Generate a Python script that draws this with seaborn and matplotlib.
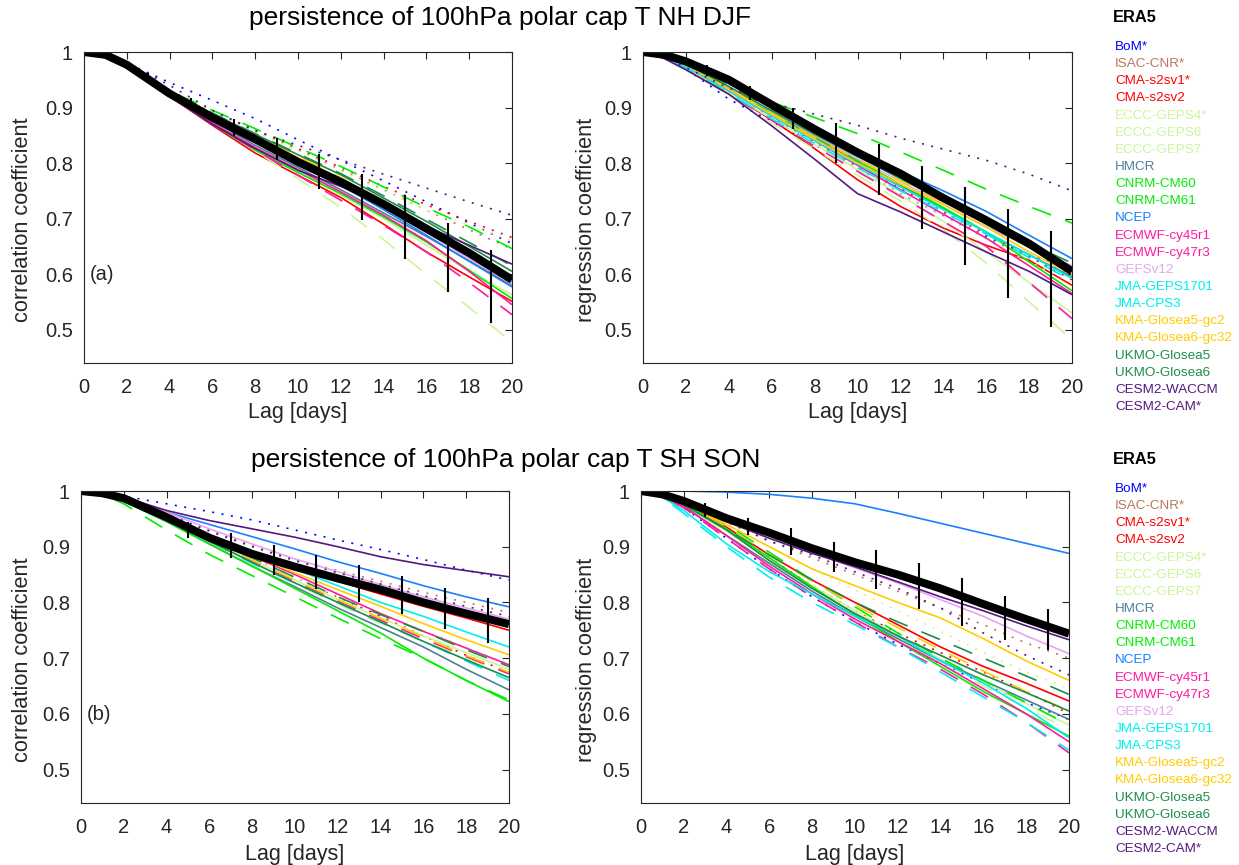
import numpy as np
import matplotlib
matplotlib.use("Agg")
import matplotlib.pyplot as plt
import seaborn as sns
from matplotlib.ticker import FormatStrFormatter

# ---------------- data ----------------
LAGS = [0, 1, 2, 4, 6, 8, 10, 12, 14, 16, 18, 20]
BAR_LAGS = [3, 5, 7, 9, 11, 13, 15, 17, 19]

MODELS = ["BoM*", "ISAC-CNR*", "CMA-s2sv1*", "CMA-s2sv2", "ECCC-GEPS4*", "ECCC-GEPS6",
          "ECCC-GEPS7", "HMCR", "CNRM-CM60", "CNRM-CM61", "NCEP", "ECMWF-cy45r1",
          "ECMWF-cy47r3", "GEFSv12", "JMA-GEPS1701", "JMA-CPS3", "KMA-Glosea5-gc2",
          "KMA-Glosea6-gc32", "UKMO-Glosea5", "UKMO-Glosea6", "CESM2-WACCM", "CESM2-CAM*"]
COLORS = ["#0000ff", "#b8785a", "#ff0000", "#ff0000", "#ccf59a", "#ccf59a", "#ccf59a",
          "#4f8099", "#00ee00", "#00ee00", "#1a80ff", "#ff1aa0", "#ff1aa0", "#e8a4f0",
          "#00eeee", "#00eeee", "#ffcc00", "#ffcc00", "#1c8c4c", "#1c8c4c", "#55187f", "#55187f"]
STYLES = ["dot", "dot", "dot", "solid", "dot", "dash", "solid", "solid", "dash", "solid",
          "solid", "dash", "solid", "solid", "dash", "solid", "dash", "solid", "dash",
          "solid", "solid", "dot"]

# Panel (a): NH DJF correlation
ERA5_A = [1, 0.995, 0.977, 0.925, 0.882, 0.843, 0.802, 0.766, 0.726, 0.682, 0.638, 0.590]
BAR_LO_A = [0.948, 0.896, 0.849, 0.806, 0.754, 0.697, 0.627, 0.568, 0.512]
BAR_HI_A = [0.962, 0.917, 0.880, 0.846, 0.816, 0.780, 0.742, 0.692, 0.643]
MODELS_A = {
    "BoM*": [1, 0.995, 0.980, 0.945, 0.913, 0.880, 0.842, 0.805, 0.768, 0.730, 0.692, 0.655],
    "ISAC-CNR*": [1, 0.995, 0.978, 0.930, 0.893, 0.858, 0.823, 0.788, 0.752, 0.715, 0.680, 0.645],
    "CMA-s2sv1*": [1, 0.995, 0.978, 0.930, 0.893, 0.860, 0.826, 0.792, 0.758, 0.725, 0.695, 0.666],
    "CMA-s2sv2": [1, 0.994, 0.975, 0.920, 0.868, 0.818, 0.778, 0.738, 0.690, 0.640, 0.595, 0.551],
    "ECCC-GEPS4*": [1, 0.995, 0.978, 0.930, 0.892, 0.857, 0.822, 0.786, 0.750, 0.715, 0.688, 0.660],
    "ECCC-GEPS6": [1, 0.994, 0.975, 0.922, 0.872, 0.822, 0.772, 0.720, 0.662, 0.600, 0.540, 0.477],
    "ECCC-GEPS7": [1, 0.994, 0.976, 0.923, 0.874, 0.828, 0.785, 0.742, 0.700, 0.652, 0.605, 0.563],
    "HMCR": [1, 0.994, 0.976, 0.924, 0.876, 0.832, 0.792, 0.752, 0.710, 0.668, 0.624, 0.580],
    "CNRM-CM60": [1, 0.995, 0.978, 0.930, 0.895, 0.862, 0.828, 0.794, 0.757, 0.720, 0.685, 0.646],
    "CNRM-CM61": [1, 0.994, 0.975, 0.921, 0.870, 0.823, 0.783, 0.745, 0.703, 0.658, 0.607, 0.556],
    "NCEP": [1, 0.994, 0.976, 0.925, 0.880, 0.840, 0.800, 0.760, 0.716, 0.670, 0.623, 0.577],
    "ECMWF-cy45r1": [1, 0.994, 0.975, 0.921, 0.870, 0.824, 0.778, 0.733, 0.688, 0.640, 0.585, 0.527],
    "ECMWF-cy47r3": [1, 0.994, 0.975, 0.922, 0.872, 0.828, 0.788, 0.748, 0.706, 0.660, 0.605, 0.545],
    "GEFSv12": [1, 0.994, 0.976, 0.925, 0.880, 0.840, 0.800, 0.762, 0.720, 0.675, 0.628, 0.582],
    "JMA-GEPS1701": [1, 0.995, 0.977, 0.928, 0.886, 0.848, 0.808, 0.770, 0.728, 0.684, 0.638, 0.592],
    "JMA-CPS3": [1, 0.995, 0.977, 0.927, 0.885, 0.846, 0.806, 0.768, 0.726, 0.682, 0.634, 0.586],
    "KMA-Glosea5-gc2": [1, 0.995, 0.977, 0.928, 0.887, 0.850, 0.812, 0.774, 0.731, 0.686, 0.640, 0.592],
    "KMA-Glosea6-gc32": [1, 0.995, 0.977, 0.928, 0.886, 0.848, 0.810, 0.772, 0.730, 0.686, 0.641, 0.596],
    "UKMO-Glosea5": [1, 0.995, 0.978, 0.930, 0.890, 0.853, 0.817, 0.781, 0.741, 0.699, 0.657, 0.615],
    "UKMO-Glosea6": [1, 0.995, 0.978, 0.930, 0.889, 0.852, 0.815, 0.779, 0.737, 0.695, 0.650, 0.605],
    "CESM2-WACCM": [1, 0.994, 0.975, 0.920, 0.870, 0.826, 0.787, 0.758, 0.722, 0.686, 0.652, 0.618],
    "CESM2-CAM*": [1, 0.995, 0.980, 0.940, 0.895, 0.858, 0.832, 0.806, 0.780, 0.755, 0.730, 0.706],
}

# Panel (top right): NH DJF regression
ERA5_B = [1, 0.995, 0.983, 0.950, 0.905, 0.861, 0.819, 0.781, 0.737, 0.697, 0.655, 0.605]
BAR_LO_B = [0.956, 0.914, 0.861, 0.801, 0.742, 0.682, 0.617, 0.557, 0.505]
BAR_HI_B = [0.976, 0.938, 0.899, 0.873, 0.834, 0.795, 0.757, 0.718, 0.677]
MODELS_B = {
    "BoM*": [1, 0.990, 0.970, 0.915, 0.875, 0.833, 0.790, 0.745, 0.705, 0.668, 0.635, 0.610],
    "ISAC-CNR*": [1, 0.990, 0.972, 0.925, 0.880, 0.835, 0.792, 0.752, 0.708, 0.665, 0.630, 0.600],
    "CMA-s2sv1*": [1, 0.990, 0.972, 0.925, 0.882, 0.838, 0.795, 0.755, 0.712, 0.672, 0.632, 0.590],
    "CMA-s2sv2": [1, 0.990, 0.972, 0.925, 0.878, 0.826, 0.770, 0.722, 0.683, 0.652, 0.625, 0.580],
    "ECCC-GEPS4*": [1, 0.990, 0.972, 0.925, 0.880, 0.835, 0.790, 0.746, 0.704, 0.662, 0.622, 0.585],
    "ECCC-GEPS6": [1, 0.990, 0.971, 0.922, 0.872, 0.825, 0.778, 0.732, 0.680, 0.620, 0.550, 0.482],
    "ECCC-GEPS7": [1, 0.990, 0.972, 0.926, 0.880, 0.834, 0.788, 0.742, 0.695, 0.640, 0.585, 0.530],
    "HMCR": [1, 0.992, 0.976, 0.935, 0.890, 0.845, 0.802, 0.760, 0.718, 0.675, 0.635, 0.595],
    "CNRM-CM60": [1, 0.993, 0.978, 0.945, 0.910, 0.882, 0.853, 0.820, 0.787, 0.753, 0.722, 0.692],
    "CNRM-CM61": [1, 0.992, 0.976, 0.935, 0.892, 0.848, 0.805, 0.762, 0.720, 0.676, 0.622, 0.570],
    "NCEP": [1, 0.993, 0.980, 0.943, 0.900, 0.858, 0.820, 0.785, 0.750, 0.713, 0.670, 0.628],
    "ECMWF-cy45r1": [1, 0.990, 0.972, 0.925, 0.877, 0.830, 0.785, 0.740, 0.695, 0.650, 0.585, 0.520],
    "ECMWF-cy47r3": [1, 0.991, 0.974, 0.930, 0.885, 0.840, 0.796, 0.752, 0.708, 0.665, 0.615, 0.565],
    "GEFSv12": [1, 0.992, 0.976, 0.936, 0.893, 0.850, 0.808, 0.767, 0.726, 0.685, 0.650, 0.615],
    "JMA-GEPS1701": [1, 0.990, 0.972, 0.925, 0.880, 0.835, 0.792, 0.750, 0.712, 0.672, 0.630, 0.588],
    "JMA-CPS3": [1, 0.991, 0.974, 0.930, 0.885, 0.840, 0.798, 0.757, 0.716, 0.676, 0.635, 0.592],
    "KMA-Glosea5-gc2": [1, 0.992, 0.977, 0.935, 0.890, 0.846, 0.806, 0.768, 0.730, 0.690, 0.650, 0.610],
    "KMA-Glosea6-gc32": [1, 0.992, 0.977, 0.933, 0.888, 0.843, 0.800, 0.762, 0.725, 0.685, 0.640, 0.600],
    "UKMO-Glosea5": [1, 0.993, 0.979, 0.940, 0.897, 0.855, 0.815, 0.775, 0.735, 0.695, 0.655, 0.620],
    "UKMO-Glosea6": [1, 0.993, 0.978, 0.938, 0.894, 0.852, 0.812, 0.772, 0.732, 0.690, 0.648, 0.612],
    "CESM2-WACCM": [1, 0.988, 0.968, 0.924, 0.867, 0.807, 0.745, 0.712, 0.676, 0.640, 0.605, 0.563],
    "CESM2-CAM*": [1, 0.990, 0.972, 0.935, 0.908, 0.888, 0.868, 0.845, 0.825, 0.805, 0.780, 0.750],
}

# Panel (b): SH SON correlation
ERA5_C = [1, 0.996, 0.987, 0.953, 0.916, 0.887, 0.864, 0.843, 0.823, 0.800, 0.780, 0.761]
BAR_LO_C = [0.962, 0.915, 0.879, 0.849, 0.825, 0.801, 0.780, 0.753, 0.727]
BAR_HI_C = [0.975, 0.945, 0.924, 0.903, 0.886, 0.867, 0.847, 0.826, 0.808]
MODELS_C = {
    "BoM*": [1, 0.997, 0.991, 0.977, 0.963, 0.948, 0.930, 0.912, 0.895, 0.877, 0.858, 0.840],
    "ISAC-CNR*": [1, 0.996, 0.987, 0.958, 0.930, 0.902, 0.877, 0.857, 0.838, 0.818, 0.800, 0.782],
    "CMA-s2sv1*": [1, 0.996, 0.985, 0.955, 0.915, 0.880, 0.845, 0.810, 0.775, 0.740, 0.705, 0.675],
    "CMA-s2sv2": [1, 0.996, 0.986, 0.952, 0.915, 0.885, 0.860, 0.838, 0.815, 0.793, 0.772, 0.750],
    "ECCC-GEPS4*": [1, 0.996, 0.985, 0.952, 0.915, 0.880, 0.845, 0.812, 0.780, 0.750, 0.720, 0.690],
    "ECCC-GEPS6": [1, 0.995, 0.984, 0.948, 0.908, 0.870, 0.833, 0.797, 0.762, 0.730, 0.700, 0.672],
    "ECCC-GEPS7": [1, 0.995, 0.984, 0.950, 0.912, 0.876, 0.840, 0.805, 0.772, 0.740, 0.710, 0.680],
    "HMCR": [1, 0.995, 0.982, 0.945, 0.905, 0.865, 0.828, 0.790, 0.755, 0.720, 0.680, 0.643],
    "CNRM-CM60": [1, 0.994, 0.977, 0.930, 0.886, 0.848, 0.810, 0.772, 0.735, 0.700, 0.660, 0.625],
    "CNRM-CM61": [1, 0.995, 0.982, 0.945, 0.905, 0.865, 0.825, 0.785, 0.745, 0.700, 0.660, 0.622],
    "NCEP": [1, 0.997, 0.988, 0.962, 0.940, 0.918, 0.896, 0.873, 0.852, 0.830, 0.810, 0.792],
    "ECMWF-cy45r1": [1, 0.995, 0.984, 0.950, 0.912, 0.875, 0.838, 0.802, 0.768, 0.735, 0.703, 0.672],
    "ECMWF-cy47r3": [1, 0.996, 0.985, 0.955, 0.918, 0.883, 0.850, 0.815, 0.780, 0.748, 0.718, 0.688],
    "GEFSv12": [1, 0.997, 0.989, 0.962, 0.932, 0.905, 0.878, 0.855, 0.832, 0.810, 0.790, 0.770],
    "JMA-GEPS1701": [1, 0.995, 0.983, 0.948, 0.910, 0.870, 0.835, 0.800, 0.765, 0.730, 0.695, 0.660],
    "JMA-CPS3": [1, 0.996, 0.985, 0.955, 0.920, 0.888, 0.860, 0.830, 0.800, 0.775, 0.747, 0.720],
    "KMA-Glosea5-gc2": [1, 0.995, 0.984, 0.950, 0.912, 0.876, 0.840, 0.805, 0.772, 0.738, 0.705, 0.675],
    "KMA-Glosea6-gc32": [1, 0.996, 0.985, 0.955, 0.918, 0.885, 0.853, 0.823, 0.793, 0.762, 0.733, 0.706],
    "UKMO-Glosea5": [1, 0.995, 0.984, 0.953, 0.915, 0.880, 0.845, 0.810, 0.778, 0.748, 0.715, 0.685],
    "UKMO-Glosea6": [1, 0.995, 0.983, 0.950, 0.910, 0.872, 0.835, 0.800, 0.765, 0.730, 0.697, 0.665],
    "CESM2-WACCM": [1, 0.997, 0.989, 0.965, 0.947, 0.932, 0.917, 0.900, 0.882, 0.868, 0.857, 0.846],
    "CESM2-CAM*": [1, 0.996, 0.987, 0.958, 0.928, 0.900, 0.875, 0.853, 0.833, 0.812, 0.793, 0.775],
}

# Panel (bottom right): SH SON regression
ERA5_D = [1, 0.994, 0.982, 0.951, 0.925, 0.897, 0.872, 0.850, 0.825, 0.797, 0.770, 0.744]
BAR_LO_D = [0.954, 0.921, 0.885, 0.855, 0.825, 0.789, 0.757, 0.733, 0.714]
BAR_HI_D = [0.978, 0.951, 0.933, 0.909, 0.894, 0.870, 0.843, 0.811, 0.789]
MODELS_D = {
    "BoM*": [1, 0.990, 0.970, 0.915, 0.860, 0.810, 0.765, 0.725, 0.690, 0.655, 0.620, 0.590],
    "ISAC-CNR*": [1, 0.993, 0.980, 0.945, 0.910, 0.880, 0.850, 0.820, 0.790, 0.760, 0.727, 0.700],
    "CMA-s2sv1*": [1, 0.991, 0.975, 0.930, 0.880, 0.830, 0.785, 0.745, 0.710, 0.675, 0.640, 0.600],
    "CMA-s2sv2": [1, 0.992, 0.978, 0.935, 0.885, 0.840, 0.800, 0.760, 0.720, 0.685, 0.655, 0.623],
    "ECCC-GEPS4*": [1, 0.992, 0.978, 0.940, 0.900, 0.860, 0.822, 0.785, 0.748, 0.710, 0.675, 0.645],
    "ECCC-GEPS6": [1, 0.990, 0.972, 0.922, 0.870, 0.820, 0.775, 0.735, 0.690, 0.650, 0.610, 0.572],
    "ECCC-GEPS7": [1, 0.991, 0.974, 0.928, 0.878, 0.830, 0.785, 0.740, 0.698, 0.658, 0.618, 0.580],
    "HMCR": [1, 0.990, 0.972, 0.920, 0.870, 0.820, 0.775, 0.735, 0.695, 0.660, 0.625, 0.590],
    "CNRM-CM60": [1, 0.993, 0.980, 0.940, 0.890, 0.840, 0.792, 0.745, 0.700, 0.660, 0.620, 0.580],
    "CNRM-CM61": [1, 0.992, 0.977, 0.932, 0.880, 0.828, 0.778, 0.730, 0.685, 0.640, 0.600, 0.560],
    "NCEP": [1, 1.000, 1.000, 0.998, 0.994, 0.987, 0.977, 0.960, 0.942, 0.924, 0.906, 0.888],
    "ECMWF-cy45r1": [1, 0.990, 0.970, 0.915, 0.860, 0.810, 0.765, 0.720, 0.680, 0.635, 0.585, 0.530],
    "ECMWF-cy47r3": [1, 0.990, 0.972, 0.920, 0.865, 0.815, 0.770, 0.730, 0.690, 0.645, 0.600, 0.550],
    "GEFSv12": [1, 0.994, 0.982, 0.950, 0.920, 0.890, 0.862, 0.835, 0.805, 0.775, 0.740, 0.708],
    "JMA-GEPS1701": [1, 0.988, 0.960, 0.900, 0.845, 0.800, 0.760, 0.720, 0.675, 0.630, 0.585, 0.535],
    "JMA-CPS3": [1, 0.989, 0.965, 0.905, 0.855, 0.815, 0.775, 0.740, 0.695, 0.655, 0.610, 0.557],
    "KMA-Glosea5-gc2": [1, 0.992, 0.977, 0.935, 0.885, 0.838, 0.795, 0.755, 0.715, 0.677, 0.640, 0.605],
    "KMA-Glosea6-gc32": [1, 0.993, 0.978, 0.940, 0.900, 0.860, 0.830, 0.800, 0.772, 0.735, 0.695, 0.660],
    "UKMO-Glosea5": [1, 0.992, 0.975, 0.932, 0.885, 0.840, 0.800, 0.765, 0.733, 0.700, 0.668, 0.635],
    "UKMO-Glosea6": [1, 0.992, 0.975, 0.930, 0.875, 0.825, 0.780, 0.740, 0.705, 0.670, 0.638, 0.605],
    "CESM2-WACCM": [1, 0.994, 0.980, 0.945, 0.915, 0.888, 0.864, 0.837, 0.810, 0.785, 0.758, 0.733],
    "CESM2-CAM*": [1, 0.992, 0.978, 0.945, 0.910, 0.885, 0.855, 0.825, 0.790, 0.745, 0.705, 0.670],
}

TITLE_TOP = "persistence of 100hPa polar cap T NH DJF"
TITLE_BOT = "persistence of 100hPa polar cap T SH SON"
X_TICKS = [0, 2, 4, 6, 8, 10, 12, 14, 16, 18, 20]
Y_TICKS = [0.5, 0.6, 0.7, 0.8, 0.9, 1.0]

# ---------------- style ----------------
sns.set_theme(style="white")
plt.rcParams["font.family"] = ["Liberation Sans", "DejaVu Sans"]
plt.rcParams["lines.solid_capstyle"] = "butt"

W, H = 1239, 865
fig = plt.figure(figsize=(W / 100, H / 100), dpi=100)

LS = {"solid": "-", "dash": (0, (12, 9)), "dot": (0, (1.2, 4.5))}
INK = "#262626"


def px_axes(left, right, top, bottom):
    return fig.add_axes([left / W, 1 - bottom / H, (right - left) / W, (bottom - top) / H])


panels = [
    (px_axes(84, 512, 52, 363), ERA5_A, MODELS_A, BAR_LO_A, BAR_HI_A, "correlation coefficient", "(a)", -0.119, -0.127),
    (px_axes(643, 1072, 52, 363), ERA5_B, MODELS_B, BAR_LO_B, BAR_HI_B, "regression coefficient", None, -0.107, -0.127),
    (px_axes(81, 509, 491, 803), ERA5_C, MODELS_C, BAR_LO_C, BAR_HI_C, "correlation coefficient", "(b)", -0.112, -0.130),
    (px_axes(641, 1069, 491, 803), ERA5_D, MODELS_D, BAR_LO_D, BAR_HI_D, "regression coefficient", None, -0.103, -0.130),
]

for ax, era, mods, lo, hi, ylab, tag, ylx, xly in panels:
    for name, col, sty in zip(MODELS, COLORS, STYLES):
        sns.lineplot(x=LAGS, y=mods[name], ax=ax, color=col, linestyle=LS[sty],
                     lw=1.2, errorbar=None, legend=False)
    sns.lineplot(x=LAGS, y=era, ax=ax, color="black", lw=5.8, errorbar=None, legend=False)
    ax.vlines(BAR_LAGS, lo, hi, color="black", lw=1.5, zorder=5)

    ax.set_xlim(0, 20)
    ax.set_ylim(0.44, 1.0)
    ax.set_xticks(X_TICKS)
    ax.set_yticks(Y_TICKS)
    ax.yaxis.set_major_formatter(FormatStrFormatter("%g"))
    ax.tick_params(direction="in", top=True, right=True, length=5, width=0.8,
                   labelsize=14.5, colors=INK)
    ax.tick_params(axis="x", pad=11)
    ax.tick_params(axis="y", pad=8)
    for sp in ax.spines.values():
        sp.set_color(INK)
        sp.set_linewidth(0.8)
    ax.set_xlabel("Lag [days]", fontsize=15.5, color=INK)
    ax.set_ylabel(ylab, fontsize=15.7, color=INK)
    ax.xaxis.set_label_coords(0.5, xly)
    ax.yaxis.set_label_coords(ylx, 0.46)
    if tag:
        ax.text(0.014, 0.283, tag, transform=ax.transAxes, fontsize=14.5,
                color=INK, ha="left", va="center")

fig.text(500 / W, 1 - 18 / H, TITLE_TOP, ha="center", va="center", fontsize=19, color="black")
fig.text(506 / W, 1 - 460 / H, TITLE_BOT, ha="center", va="center", fontsize=19, color="black")

# colored text legends
for y0 in (18, 460):
    fig.text(1113 / W, 1 - y0 / H, "ERA5", fontsize=11.8, weight="bold", color="black",
             ha="left", va="center")
    for i, (name, col) in enumerate(zip(MODELS, COLORS)):
        y = y0 + 29 + 17.14 * i
        fig.text(1115 / W, 1 - y / H, name, fontsize=9.7, color=col, ha="left", va="center")

fig.savefig("out.png", dpi=100)
